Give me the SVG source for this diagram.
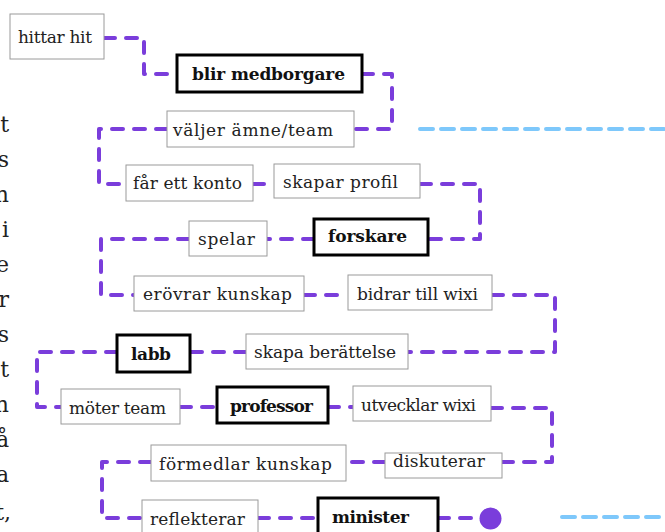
<svg xmlns="http://www.w3.org/2000/svg" width="665" height="532" viewBox="0 0 665 532">
<style>
.bg{fill:#fff}
.box{fill:#fff;stroke:#9a9a9a;stroke-width:1}
.key{fill:#fff;stroke:#000;stroke-width:3}
.t{font-family:"DejaVu Serif","Liberation Serif",serif;font-size:17px;fill:#222}
.b{font-family:"DejaVu Serif","Liberation Serif",serif;font-size:17px;font-weight:bold;fill:#111}
.side{font-family:"DejaVu Serif","Liberation Serif",serif;font-size:22px;fill:#222;text-anchor:end}
.c{fill:none;stroke:#7a3ddb;stroke-width:4;stroke-dasharray:11 11;stroke-linecap:round;stroke-linejoin:round}
.blue{fill:none;stroke:#7ec8fb;stroke-width:4;stroke-dasharray:13 8;stroke-linecap:round}
</style>
<rect class="bg" x="0" y="0" width="665" height="532"/>
<g id="side-text">
<text class="side" x="9" y="132">t</text>
<text class="side" x="9" y="167">s</text>
<text class="side" x="9" y="202">n</text>
<text class="side" x="9" y="237">i</text>
<text class="side" x="9" y="272">e</text>
<text class="side" x="9" y="307">r</text>
<text class="side" x="9" y="342">s</text>
<text class="side" x="9" y="377">t</text>
<text class="side" x="9" y="412">n</text>
<text class="side" x="9" y="447">å</text>
<text class="side" x="9" y="482">a</text>
<text class="side" x="11" y="520">t,</text>
</g>
<g id="connectors">
<path class="blue" d="M420 129 H665"/>
<path class="blue" d="M562 517 H665"/>
<path class="c" d="M104 38 H144 V74 H177"/>
<path class="c" d="M362 74 H392 V129 H354"/>
<path class="c" d="M167 129 H99 V184 H126"/>
<path class="c" d="M253 184 H274"/>
<path class="c" d="M420 184 H480 V239 H428"/>
<path class="c" d="M314 239 H267"/>
<path class="c" d="M189 239 H101 V295 H134"/>
<path class="c" d="M304 295 H348"/>
<path class="c" d="M492 295 H555 V352 H408"/>
<path class="c" d="M246 352 H190"/>
<path class="c" d="M117 352 H37 V407 H61"/>
<path class="c" d="M180 407 H217"/>
<path class="c" d="M328 407 H353"/>
<path class="c" d="M491 408 H552 V462 H502"/>
<path class="c" d="M385 462 H346"/>
<path class="c" d="M151 462 H102 V518 H142"/>
<path class="c" d="M258 518 H318"/>
<path class="c" d="M438 518 H490"/>
</g>
<g id="n-hittar-hit"><rect class="box" x="10" y="14" width="94" height="45"/><text class="t" x="18" y="43" textLength="74">hittar hit</text></g>
<g id="n-blir-medborgare"><rect class="key" x="177" y="55" width="185" height="37"/><text class="b" x="192" y="80" textLength="153">blir medborgare</text></g>
<g id="n-valjer"><rect class="box" x="167" y="111" width="187" height="36"/><text class="t" x="173" y="136" textLength="160">väljer ämne/team</text></g>
<g id="n-far-ett-konto"><rect class="box" x="126" y="165" width="127" height="36"/><text class="t" x="133" y="189" textLength="109">får ett konto</text></g>
<g id="n-skapar-profil"><rect class="box" x="274" y="164" width="146" height="34"/><text class="t" x="283" y="188" textLength="115">skapar profil</text></g>
<g id="n-spelar"><rect class="box" x="189" y="221" width="78" height="35"/><text class="t" x="198" y="245" textLength="57">spelar</text></g>
<g id="n-forskare"><rect class="key" x="314" y="219" width="114" height="36"/><text class="b" x="328" y="242" textLength="79">forskare</text></g>
<g id="n-erovrar"><rect class="box" x="134" y="276" width="170" height="35"/><text class="t" x="143" y="300" textLength="149">erövrar kunskap</text></g>
<g id="n-bidrar"><rect class="box" x="348" y="275" width="144" height="35"/><text class="t" x="357" y="300" textLength="121">bidrar till wixi</text></g>
<g id="n-labb"><rect class="key" x="117" y="335" width="73" height="37"/><text class="b" x="131" y="360" textLength="40">labb</text></g>
<g id="n-skapa-berattelse"><rect class="box" x="246" y="334" width="162" height="35"/><text class="t" x="254" y="358" textLength="142">skapa berättelse</text></g>
<g id="n-moter-team"><rect class="box" x="61" y="389" width="119" height="35"/><text class="t" x="69" y="414" textLength="97">möter team</text></g>
<g id="n-professor"><rect class="key" x="217" y="387" width="111" height="36"/><text class="b" x="230" y="412" textLength="83">professor</text></g>
<g id="n-utvecklar"><rect class="box" x="353" y="386" width="138" height="35"/><text class="t" x="361" y="411" textLength="115">utvecklar wixi</text></g>
<g id="n-formedlar"><rect class="box" x="151" y="445" width="195" height="36"/><text class="t" x="159" y="470" textLength="173">förmedlar kunskap</text></g>
<g id="n-diskuterar"><rect class="box" x="385" y="453" width="117" height="25"/><text class="t" x="393" y="467" textLength="92">diskuterar</text></g>
<g id="n-reflekterar"><rect class="box" x="142" y="500" width="116" height="40"/><text class="t" x="150" y="525" textLength="95">reflekterar</text></g>
<g id="n-minister"><rect class="key" x="318" y="498" width="120" height="40"/><text class="b" x="332" y="523" textLength="77">minister</text></g>
<g id="end-dot"><circle cx="490.5" cy="518.5" r="11" fill="#7a3ddb"/></g>
</svg>
